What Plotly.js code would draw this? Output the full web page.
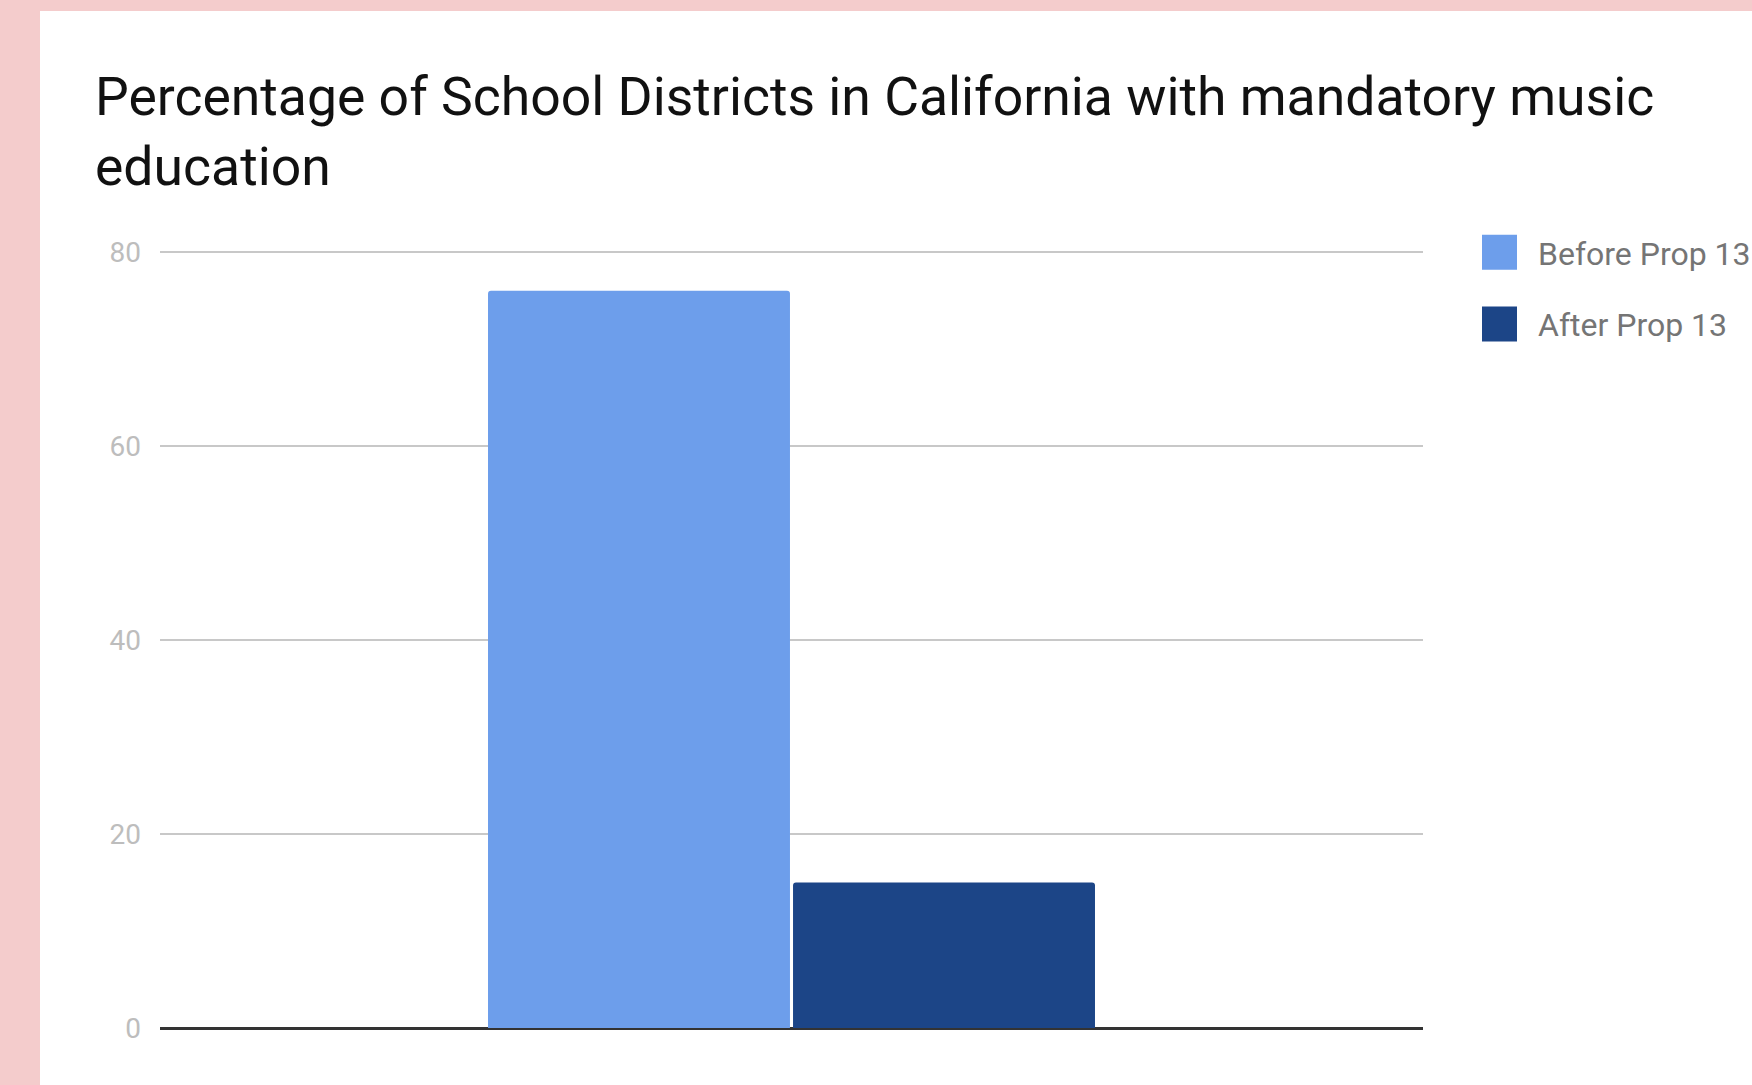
<!DOCTYPE html>
<html>
<head>
<meta charset="utf-8">
<script src="https://cdn.plot.ly/plotly-3.0.1.min.js"></script>
<style>
  html, body { margin: 0; padding: 0; background: #f4cccc; width: 1752px; height: 1085px; overflow: hidden; }
  #chart { position: absolute; left: 40px; top: 11px; width: 1712px; height: 1074px; background: #ffffff; }
</style>
</head>
<body>
<div id="chart"></div>
<script>
const categories = ['California'];
const seriesNames = ['Before Prop 13', 'After Prop 13'];
const beforeValues = [76];
const afterValues = [15];
const seriesColors = ['#6d9eeb', '#1c4587'];
const yTicks = [0, 20, 40, 60, 80];

const traces = [
  { type: 'bar', name: seriesNames[0], x: categories, y: beforeValues, legendgroup: 'a',
    marker: { color: seriesColors[0], cornerradius: 3 }, hoverinfo: 'y+name' },
  { type: 'bar', name: seriesNames[1], x: categories, y: afterValues, legendgroup: 'b',
    marker: { color: seriesColors[1], cornerradius: 3 }, hoverinfo: 'y+name' }
];

const layout = {
  width: 1712, height: 1074,
  paper_bgcolor: '#ffffff', plot_bgcolor: '#ffffff',
  margin: { l: 120, r: 329, t: 238, b: 57 },
  font: { family: 'Roboto, sans-serif' },
  title: {
    text: 'Percentage of School Districts in California with mandatory music<br>education',
    font: { family: 'Roboto, sans-serif', size: 53.5, color: '#111111' },
    xref: 'container', yref: 'container', x: 55/1712, xanchor: 'left', y: 1 - 104/1074, yanchor: 'top'
  },
  barmode: 'group', bargap: 0.517, bargroupgap: 0.01,
  xaxis: { showticklabels: false, showgrid: false, zeroline: false, showline: false, ticks: '', fixedrange: true },
  yaxis: {
    range: [0, 80.3], tickvals: yTicks, ticktext: yTicks.map(String),
    showgrid: true, gridcolor: '#c8c8c8', gridwidth: 2,
    zeroline: true, zerolinecolor: '#333333', zerolinewidth: 3,
    showline: false, ticks: '', ticklabelstandoff: 18,
    tickfont: { family: 'Roboto, sans-serif', size: 28, color: '#bdbdbd' }, fixedrange: true
  },
  showlegend: true,
  legend: {
    xref: 'container', yref: 'container', x: 1421/1712, xanchor: 'left', y: 1 - 214/1074, yanchor: 'top',
    font: { family: 'Roboto, sans-serif', size: 32, color: '#757575' },
    traceorder: 'grouped', tracegroupgap: 27, itemwidth: 67, bgcolor: 'rgba(0,0,0,0)'
  }
};

Plotly.newPlot('chart', traces, layout, { displayModeBar: false }).then(function (gd) {
  // enlarge legend swatches to match the reference's large square keys
  gd.querySelectorAll('.legend .legendpoints path').forEach(function (p) {
    p.setAttribute('d', 'M17.5,17.5H-17.5V-17.5H17.5Z');
    p.style.strokeWidth = '0';
  });
});
</script>
</body>
</html>
